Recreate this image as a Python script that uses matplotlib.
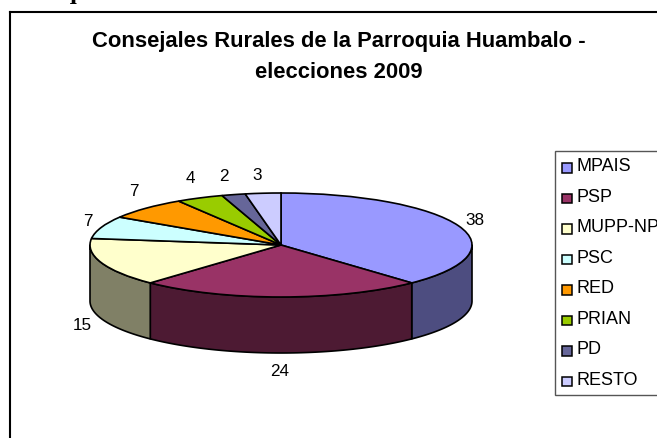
import numpy as np
import matplotlib
matplotlib.use("Agg")
import matplotlib.pyplot as plt
from matplotlib.patches import Rectangle

labels = ["MPAIS", "PSP", "MUPP-NP", "PSC", "RED", "PRIAN", "PD", "RESTO"]
values = [38, 24, 15, 7, 7, 4, 2, 3]
top_colors = ["#9999FF", "#993366", "#FFFFCC", "#CCFFFF", "#FF9900", "#99CC00", "#666699", "#CCCCFF"]
side_colors = ["#4D4D80", "#4D1A33", "#808066", "#668080", "#804D00", "#4D6600", "#33334D", "#666680"]
title_text = "Consejales Rurales de la Parroquia Huambalo -\nelecciones 2009"
heading_text = "Parroquia Huambalo"

W, H = 657, 439
CX, CY, RX, RY, DEPTH = 281, 246, 191, 52, 56

plt.rcParams["font.family"] = ["Liberation Sans", "DejaVu Sans"]
fig = plt.figure(figsize=(W / 100, H / 100), dpi=100)
bg = fig.add_axes([0, 0, 1, 1])
bg.set_xlim(0, W); bg.set_ylim(H, 0); bg.axis("off")

# chart frame
bg.plot([10, 10], [H, 13], color="black", lw=1.5, zorder=1, solid_capstyle="projecting")
bg.plot([10, W], [13, 13], color="black", lw=1.5, zorder=1, solid_capstyle="projecting")

# cut-off document heading above the chart
bg.text(1, -1.5, heading_text, family="Liberation Serif", weight="bold", fontsize=18,
        ha="left", va="baseline", color="black", zorder=1)

bg.text(339, 42, title_text.split("\n")[0], ha="center", va="center", weight="bold", fontsize=15.8, color="black")
bg.text(339, 73, title_text.split("\n")[1], ha="center", va="center", weight="bold", fontsize=15.8, color="black")

# pie axes: unit circle mapped on to the ellipse of the top face
ax = fig.add_axes([(CX - RX) / W, 1 - (CY + RY) / H, 2 * RX / W, 2 * RY / H])
ax.patch.set_alpha(0)

d = DEPTH / RY
fracs = np.array(values, dtype=float) / np.sum(values)
edges = np.concatenate([[0], np.cumsum(fracs)]) * 2 * np.pi  # clockwise from 12 o'clock

def draw_side(a0, a1, color):
    lo = max(a0, np.pi / 2)
    hi = min(a1, 3 * np.pi / 2)
    if hi <= lo:
        return
    t = np.linspace(lo, hi, 80)
    x, y = np.sin(t), np.cos(t)
    ax.fill(np.r_[x, x[::-1]], np.r_[y, (y - d)[::-1]], facecolor=color,
            edgecolor="black", lw=1.2, clip_on=False, zorder=2, joinstyle="round")

for i in range(len(values)):
    draw_side(edges[i], edges[i + 1], side_colors[i])

ax.pie(values, colors=top_colors, startangle=90, counterclock=False, radius=1,
       wedgeprops=dict(edgecolor="black", linewidth=1.2, zorder=3, clip_on=False), frame=True)
ax.set_aspect("auto")
ax.set_xlim(-1, 1); ax.set_ylim(-1, 1)
ax.axis("off")

# value labels
label_pos = [(475, 221), (280, 372), (82, 326), (88, 222), (134, 192), (190, 179), (224, 177), (257, 176)]
for (px, py), v in zip(label_pos, values):
    bg.text(px, py, str(v), ha="center", va="center", fontsize=12.3, color="black", zorder=6)

# legend
lg = fig.add_axes([0, 0, 1, 1])
lg.set_xlim(0, W); lg.set_ylim(H, 0); lg.axis("off"); lg.patch.set_alpha(0)
lg.add_patch(Rectangle((554.5, 152), 125, 244, facecolor="white", edgecolor="#555555", lw=1, zorder=1))
for i, name in enumerate(labels):
    y = 168.5 + i * 30.5
    lg.add_patch(Rectangle((562, y - 4.5), 9.5, 9.5, facecolor=top_colors[i], edgecolor="black", lw=1.1, zorder=2))
    lg.text(577, y - 1.5, name, ha="left", va="center", fontsize=13, color="black", zorder=2, clip_on=True)

fig.savefig("out.png", dpi=100, facecolor="white")
